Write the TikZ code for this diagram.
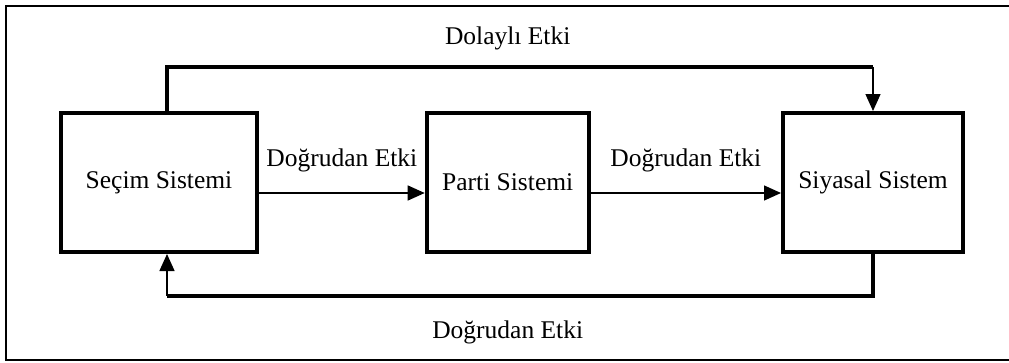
\documentclass[tikz,border=0pt]{standalone}
\usepackage{fontspec}
\setmainfont{Liberation Serif}
\usetikzlibrary{arrows.meta,calc}
\begin{document}
\begin{tikzpicture}[x=1pt, y=-1pt, >={Triangle[length=17pt,width=15pt]},
    sistem/.style={draw, line width=4pt, minimum height=139pt, inner sep=0pt, font=\fontsize{25.5}{30}\selectfont},
    etiket/.style={anchor=base, inner sep=0pt, font=\fontsize{25.5}{30}\selectfont},
    kalin/.style={line width=4pt},
    ince/.style={line width=1.4pt, ->}]
    \useasboundingbox (0,0) rectangle (1009,362);
    % çerçeve
    \draw[line width=2.5pt] (1015,6) -- (6,6) -- (6,360) -- (1015,360);

    % sistemler
    \node[sistem, minimum width=196pt] (secim) at (159,182.5) {Seçim Sistemi};
    \node[sistem, minimum width=162pt] (parti) at (507.7,182.5) {Parti Sistemi};
    \node[sistem, minimum width=180pt] (siyasal) at (873,182.5) {Siyasal Sistem};

    % doğrudan etkiler
    \draw[ince] ($(secim.east)+(0,10.5)$) -- ($(parti.west)+(0,10.5)$);
    \draw[ince] ($(parti.east)+(0,10.5)$) -- ($(siyasal.west)+(0,10.5)$);
    \node[etiket] (etki1) at ($(secim.east)!0.5!(parti.west)+(0,-16.5)$) {Doğrudan Etki};
    \node[etiket] (etki2) at ($(parti.east)!0.5!(siyasal.west)+(0,-16.5)$) {Doğrudan Etki};

    % dolaylı etki
    \coordinate (secust) at ($(secim.north)+(8,0)$);
    \coordinate (ustsol) at ($(secust)+(0,-44)$);
    \coordinate (ustsag) at (ustsol -| siyasal.north);
    \draw[kalin] (secust) -- (ustsol) -- (ustsag);
    \draw[ince] (ustsag) -- (siyasal.north);
    \node[etiket] (dolayli) at ($(ustsol -| parti.north)+(0,-22.5)$) {Dolaylı Etki};

    % geri etki
    \coordinate (altsag) at ($(siyasal.south)+(0,41.5)$);
    \coordinate (altsol) at (altsag -| secust);
    \draw[kalin] (siyasal.south) -- (altsag) -- (altsol);
    \draw[ince] (altsol) -- (secim.south -| secust);
    \node[etiket] (geri) at ($(altsol -| parti.south)+(0,43)$) {Doğrudan Etki};
\end{tikzpicture}
\end{document}
